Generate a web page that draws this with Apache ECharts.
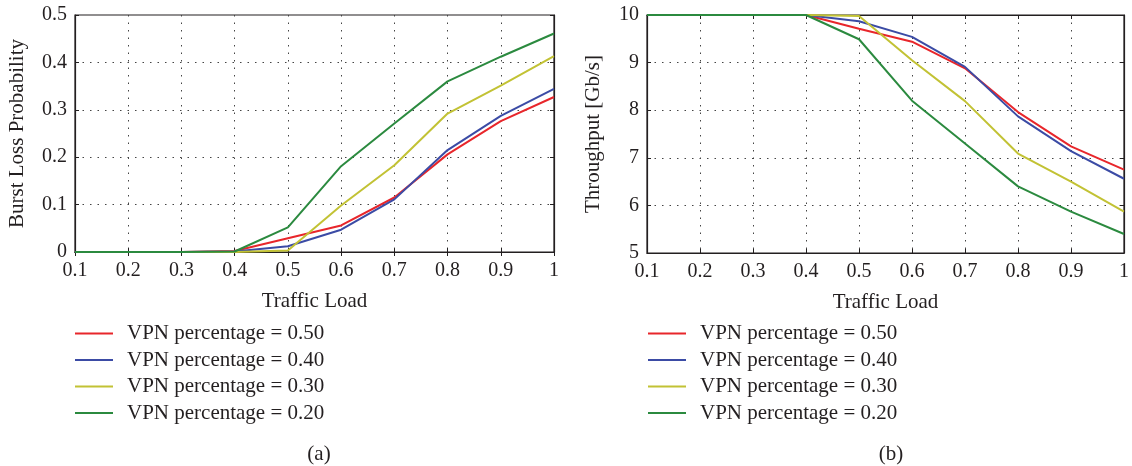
<!DOCTYPE html>
<html>
<head>
<meta charset="utf-8">
<script src="https://cdn.jsdelivr.net/npm/echarts@6/dist/echarts.min.js"></script>
<style>
html,body{margin:0;padding:0;background:#fff;}
#c{width:1132px;height:466px;}
</style>
</head>
<body>
<div id="c"></div>
<script>
const categories = ['0.1','0.2','0.3','0.4','0.5','0.6','0.7','0.8','0.9','1'];
const seriesNames = ['VPN percentage = 0.50','VPN percentage = 0.40','VPN percentage = 0.30','VPN percentage = 0.20'];
const colors = ['#e8262b','#3b4ba5','#c2c234','#2b8a3f'];

// (a) Burst Loss Probability
const lossVpn50 = [0, 0, 0, 0.002, 0.029, 0.056, 0.115, 0.206, 0.276, 0.327];
const lossVpn40 = [0, 0, 0, 0.001, 0.012, 0.047, 0.111, 0.215, 0.287, 0.344];
const lossVpn30 = [0, 0, 0, 0, 0.003, 0.098, 0.183, 0.292, 0.351, 0.413];
const lossVpn20 = [0, 0, 0, 0.001, 0.052, 0.181, 0.271, 0.360, 0.412, 0.461];

// (b) Throughput [Gb/s]
const thrVpn50 = [10, 10, 10, 10, 9.71, 9.44, 8.88, 7.96, 7.24, 6.75];
const thrVpn40 = [10, 10, 10, 10, 9.87, 9.54, 8.91, 7.87, 7.14, 6.56];
const thrVpn30 = [10, 10, 10, 10, 9.98, 9.05, 8.19, 7.09, 6.50, 5.87];
const thrVpn20 = [10, 10, 10, 10, 9.49, 8.20, 7.30, 6.40, 5.87, 5.40];

const FONT = '"Liberation Serif", "DejaVu Serif", serif';
const TXT = '#231f20';

const chart = echarts.init(document.getElementById('c'), null, {renderer:'canvas'});

function xAx(grid, pos, labels) {
  return {
    type:'category', gridIndex:grid, position:pos, data:categories, boundaryGap:false,
    name: labels ? 'Traffic Load' : '', nameLocation:'middle', nameGap:39,
    nameTextStyle:{fontFamily:FONT, fontSize:21, color:TXT},
    axisLine:{show:true, lineStyle:{color:TXT, width:1.2}},
    axisTick:{show:true, inside:true, length:4, lineStyle:{color:TXT}},
    axisLabel:{show:labels, fontFamily:FONT, fontSize:20, color:TXT, margin:9},
    splitLine:{show:labels, showMinLine:false, showMaxLine:false, lineStyle:{color:'#444', width:1, type:[1.5,6]}}
  };
}
function yAx(grid, pos, labels, min, max, interval, name, gap) {
  return {
    type:'value', gridIndex:grid, position:pos, min:min, max:max, interval:interval,
    name: labels ? name : '', nameLocation:'middle', nameGap:gap,
    nameTextStyle:{fontFamily:FONT, fontSize:21, color:TXT},
    axisLine:{show:true, lineStyle:{color:TXT, width:1.2}},
    axisTick:{show:true, inside:true, length:4, lineStyle:{color:TXT}},
    axisLabel:{show:labels, fontFamily:FONT, fontSize:20, color:TXT, margin:8},
    splitLine:{show:labels, showMinLine:false, showMaxLine:false, lineStyle:{color:'#444', width:1, type:[1.5,6]}}
  };
}

const lossData = [lossVpn50, lossVpn40, lossVpn30, lossVpn20];
const thrData = [thrVpn50, thrVpn40, thrVpn30, thrVpn20];
const series = [];
lossData.forEach((d,i)=>series.push({name:seriesNames[i], type:'line', xAxisIndex:0, yAxisIndex:0, data:d, symbol:'none', lineStyle:{width:2, color:colors[i]}, itemStyle:{color:colors[i]}, animation:false}));
thrData.forEach((d,i)=>series.push({name:seriesNames[i], type:'line', xAxisIndex:2, yAxisIndex:2, data:d, symbol:'none', lineStyle:{width:2, color:colors[i]}, itemStyle:{color:colors[i]}, animation:false}));

function legend(left) {
  return {
    data:seriesNames, orient:'vertical', left:left, top:318, itemWidth:38, itemHeight:2, itemGap:5.5,
    icon:'rect', selectedMode:false,
    textStyle:{fontFamily:FONT, fontSize:21, color:TXT, lineHeight:21, padding:[0,0,0,9]}
  };
}

chart.setOption({
  backgroundColor:'#fff',
  animation:false,
  title:[
    {text:'(a)', left:314, top:439, textAlign:'center', textStyle:{fontFamily:FONT, fontSize:21, fontWeight:'normal', color:TXT}},
    {text:'(b)', left:886, top:439, textAlign:'center', textStyle:{fontFamily:FONT, fontSize:21, fontWeight:'normal', color:TXT}}
  ],
  grid:[
    {left:75, top:15, width:479, height:237, show:true, borderColor:TXT, borderWidth:1.2},
    {left:647, top:15, width:478, height:238, show:true, borderColor:TXT, borderWidth:1.2}
  ],
  xAxis:[ xAx(0,'bottom',true), xAx(0,'top',false), xAx(1,'bottom',true), xAx(1,'top',false) ],
  yAxis:[
    yAx(0,'left',true,0,0.5,0.1,'Burst Loss Probability',47),
    yAx(0,'right',false,0,0.5,0.1,'',0),
    yAx(1,'left',true,5,10,1,'Throughput [Gb/s]',43),
    yAx(1,'right',false,5,10,1,'',0)
  ],
  legend:[ legend(70), legend(643) ],
  series:series
});
</script>
</body>
</html>
